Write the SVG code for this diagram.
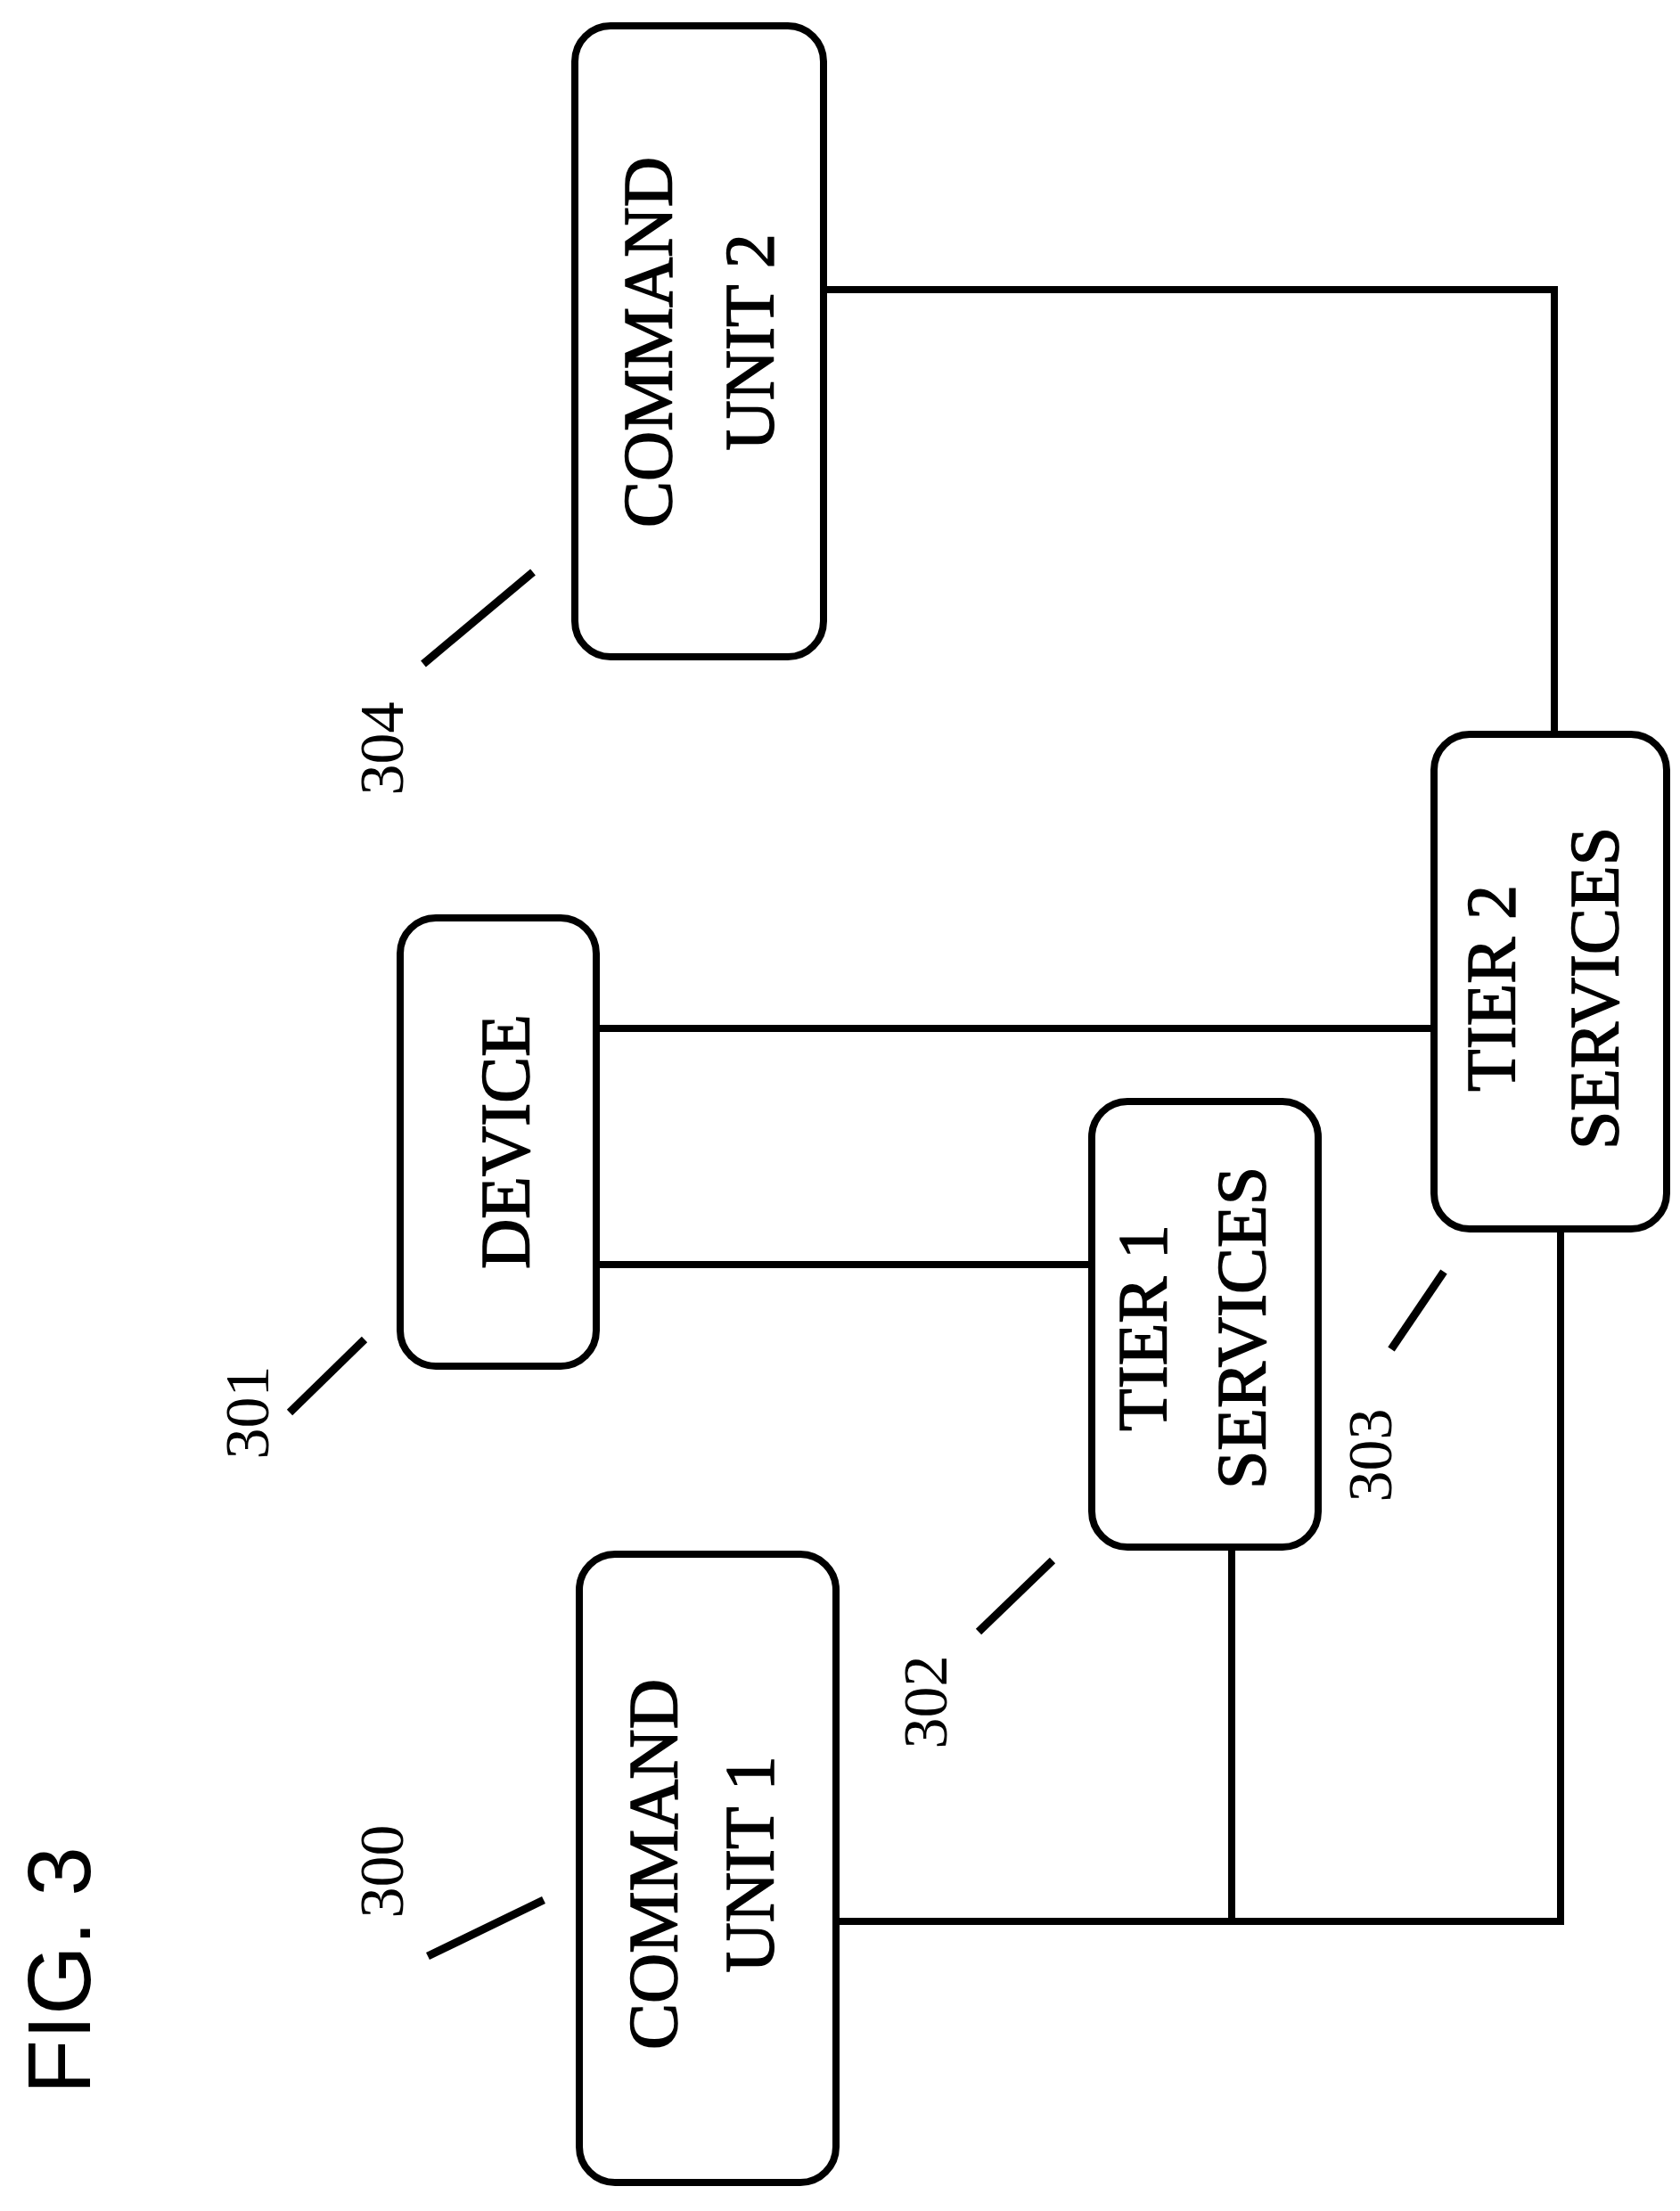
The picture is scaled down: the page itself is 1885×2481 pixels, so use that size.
<svg xmlns="http://www.w3.org/2000/svg" width="1885" height="2481" viewBox="0 0 1885 2481">
<style>
.box{fill:#fff;stroke:#000;stroke-width:8}
.t{font-family:"Liberation Serif",serif;font-size:78px;text-anchor:middle;dominant-baseline:central;fill:#000;stroke:#000;stroke-width:1.5}
.n{font-family:"Liberation Serif",serif;font-size:70px;text-anchor:middle;dominant-baseline:central;fill:#000}
.c{fill:none;stroke:#000;stroke-width:8}
.l{stroke:#000;stroke-width:9}
</style>
<rect width="1885" height="2481" fill="#fff"/>
<g id="connectors">
<polyline class="c" points="924,325 1744,325 1744,824"/>
<line class="c" x1="669" y1="1154" x2="1609" y2="1154"/>
<line class="c" x1="669" y1="1419" x2="1225" y2="1419"/>
<polyline class="c" points="938,2156 1751,2156 1751,1379"/>
<line class="c" x1="1382" y1="1736" x2="1382" y2="2156"/>
</g>
<g id="cu2"><rect class="box" x="645" y="29" width="279" height="708" rx="40"/>
<text class="t" transform="translate(726,384) rotate(-90)">COMMAND</text>
<text class="t" transform="translate(840,384) rotate(-90)">UNIT 2</text></g>
<g id="device"><rect class="box" x="449" y="1030" width="220" height="503" rx="40"/>
<text class="t" transform="translate(566,1281) rotate(-90)">DEVICE</text></g>
<g id="tier1"><rect class="box" x="1225" y="1236" width="254" height="500" rx="40"/>
<text class="t" transform="translate(1281,1490) rotate(-90)">TIER 1</text>
<text class="t" transform="translate(1392,1490) rotate(-90)">SERVICES</text></g>
<g id="tier2"><rect class="box" x="1609" y="824" width="261" height="555" rx="40"/>
<text class="t" transform="translate(1672,1109) rotate(-90)">TIER 2</text>
<text class="t" transform="translate(1788,1109) rotate(-90)">SERVICES</text></g>
<g id="cu1"><rect class="box" x="650" y="1744" width="288" height="705" rx="40"/>
<text class="t" transform="translate(732,2092) rotate(-90)">COMMAND</text>
<text class="t" transform="translate(840,2092) rotate(-90)">UNIT 1</text></g>
<g id="labels">
<line class="l" x1="480" y1="2195" x2="610" y2="2132"/>
<text class="n" transform="translate(428,2100) rotate(-90)">300</text>
<line class="l" x1="325" y1="1585" x2="409" y2="1503"/>
<text class="n" transform="translate(277,1585) rotate(-90)">301</text>
<line class="l" x1="1098" y1="1831" x2="1181" y2="1751"/>
<text class="n" transform="translate(1038,1910) rotate(-90)">302</text>
<line class="l" x1="1561" y1="1514" x2="1620" y2="1427"/>
<text class="n" transform="translate(1537,1633) rotate(-90)">303</text>
<line class="l" x1="475" y1="745" x2="598" y2="642"/>
<text class="n" transform="translate(428,840) rotate(-90)">304</text>
<text transform="translate(66,2211) rotate(-90)" style="font-family:'Liberation Sans',sans-serif;font-size:100px;text-anchor:middle;dominant-baseline:central">FIG. 3</text>
</g>
</svg>
